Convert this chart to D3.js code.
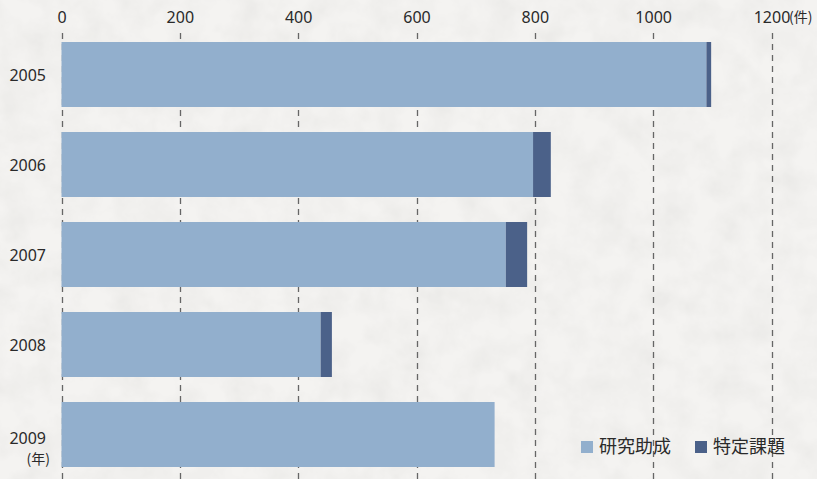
<!DOCTYPE html>
<html><head><meta charset="utf-8">
<script src="https://cdn.jsdelivr.net/npm/d3@7/dist/d3.min.js"></script>
<style>
html,body{margin:0;padding:0;background:#f2f1ef;}
svg{display:block;font-family:"Noto Sans CJK JP","Noto Sans",sans-serif;}
</style></head>
<body>
<svg id="chart" width="817" height="479"></svg>
<script>
const years = ["2005","2006","2007","2008","2009"];
const researchGrant = [1090, 797, 751, 438, 732];
const specificTopic = [8, 30, 36, 19, 0];
const tickValues = [0, 200, 400, 600, 800, 1000, 1200];
const seriesNames = ["研究助成", "特定課題"];
const colors = ["#92afcd", "#4b6189"];

const svg = d3.select("#chart");
const W = 817, H = 479;

// textured background
const defs = svg.append("defs");
const f = defs.append("filter").attr("id","tex").attr("x",0).attr("y",0).attr("width","100%").attr("height","100%");
f.append("feTurbulence").attr("type","fractalNoise").attr("baseFrequency","0.035").attr("numOctaves",4).attr("seed",3).attr("result","n");
f.append("feColorMatrix").attr("in","n").attr("type","matrix")
 .attr("values","0 0 0 0 0.55  0 0 0 0 0.55  0 0 0 0 0.53  0.6 0.6 0.6 0 -0.75").attr("result","c");
f.append("feComposite").attr("in","c").attr("in2","SourceGraphic").attr("operator","over");
svg.append("rect").attr("width",W).attr("height",H).attr("fill","#f4f3f1");
svg.append("rect").attr("width",W).attr("height",H).attr("fill","#f4f3f1").attr("filter","url(#tex)").attr("opacity",0.3);

const x = d3.scaleLinear().domain([0,1200]).range([61.5, 771.5]);
const y = d3.scaleBand().domain(years).range([42, 467]).paddingInner(25/90).paddingOuter(0);

// gridlines
svg.append("g").selectAll("line").data(tickValues).join("line")
  .attr("x1",d=>Math.round(x(d))+0.5).attr("x2",d=>Math.round(x(d))+0.5)
  .attr("y1",33).attr("y2",H)
  .attr("stroke","#666").attr("stroke-width",1.3).attr("stroke-dasharray","6,5");

// top axis
const axis = d3.axisTop(x).tickValues(tickValues).tickSize(0).tickPadding(0).tickFormat(d3.format("d"));
const gAxis = svg.append("g").attr("transform","translate(0,23)").call(axis);
gAxis.select(".domain").remove();
gAxis.selectAll("text").attr("font-size",16).attr("fill","#2a2a2a").attr("font-family","'Noto Sans',sans-serif");
svg.append("text").attr("x",789).attr("y",22).attr("font-size",14).attr("fill","#2a2a2a").text("(件)");

// stacked bars
const stackData = years.map((yr,i)=>({year:yr, a:researchGrant[i], b:specificTopic[i]}));
const stack = d3.stack().keys(["a","b"])(stackData);
svg.append("g").selectAll("g").data(stack).join("g").attr("fill",(d,i)=>colors[i])
  .selectAll("rect").data(d=>d).join("rect")
  .attr("x",d=>x(d[0])).attr("width",d=>Math.max(0,x(d[1])-x(d[0])))
  .attr("y",d=>y(d.data.year)).attr("height",y.bandwidth());

// y labels
const gY = d3.axisLeft(y).tickSize(0).tickPadding(0);
const gy = svg.append("g").attr("transform","translate(46,0)").call(gY);
gy.select(".domain").remove();
gy.selectAll("text").attr("font-size",16).attr("fill","#2a2a2a").attr("font-family","'Noto Sans',sans-serif")
  .attr("dy", d => d === "2009" ? "0.62em" : "0.4em");
svg.append("text").attr("x",50).attr("y",y("2009")+y.bandwidth()/2+29).attr("text-anchor","end")
  .attr("font-size",14).attr("fill","#2a2a2a").text("(年)");

// legend
const lg = svg.append("g");
const lx = [581, 695];
seriesNames.forEach((n,i)=>{
  lg.append("rect").attr("x",lx[i]).attr("y",441).attr("width",12).attr("height",12).attr("fill",colors[i]);
  lg.append("text").attr("x",lx[i]+18).attr("y",453).attr("font-size",18).attr("fill","#2a2a2a").text(n);
});
</script>
</body></html>
